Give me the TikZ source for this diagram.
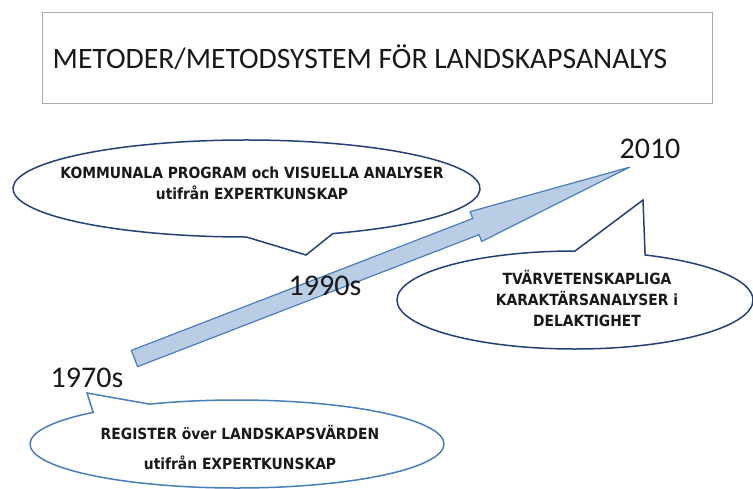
\documentclass[tikz,border=0pt]{standalone}
\usepackage{fontspec}
\usetikzlibrary{calc}
\setmainfont{Carlito}
\newfontfamily\callfont{DejaVu Sans Condensed}
\definecolor{navy}{RGB}{37,64,118}
\definecolor{midblue}{RGB}{74,126,187}
\definecolor{arrowfill}{RGB}{185,205,229}
\definecolor{boxgray}{RGB}{170,170,170}
\definecolor{ink}{RGB}{25,25,25}
\begin{document}
\begin{tikzpicture}[x=1pt,y=1pt,
  titlebox/.style={draw=boxgray,line width=0.9pt,fill=white},
  callout/.style={fill=white,line width=1.5pt,line join=miter},
  calltext/.style={font=\callfont\bfseries\fontsize{15.4}{21}\selectfont,text=ink,align=center,inner sep=0pt},
  yearlabel/.style={font=\fontsize{30}{30}\selectfont,text=ink,inner sep=0pt},
  bigarrow/.style={fill=arrowfill,draw=midblue,line width=1.2pt,line join=miter}]
\useasboundingbox (0,0) rectangle (753,-488);
% title
\draw[titlebox] (42,-12) rectangle (712,-103);
\node[font=\fontsize{29.6}{29.6}\selectfont,text=ink,anchor=base,inner sep=0pt] (title) at (360,-68.2) {METODER/METODSYSTEM FÖR LANDSKAPSANALYS};
% callout 1 (top left)
\coordinate (c1) at (246.5,-188.5);
\coordinate (tip1) at (306,-255);
\draw[callout,draw=navy] (tip1) -- ($(c1)+(-68.3:233.5 and 48.5)$) arc[start angle=-68.3,end angle=270,x radius=233.5,y radius=48.5] -- cycle;
% callout 2 (right)
\coordinate (c2) at (575,-300);
\coordinate (tip2) at (643,-200);
\draw[callout,draw=navy] (tip2) -- ($(c2)+(90:178 and 49)$) arc[start angle=90,end angle=426.8,x radius=178,y radius=49] -- cycle;
% callout 3 (bottom)
\coordinate (c3) at (237,-444);
\coordinate (tip3) at (87,-393);
\draw[callout,draw=midblue] (tip3) -- ($(c3)+(134:207 and 44)$) arc[start angle=134,end angle=475,x radius=207,y radius=44] -- cycle;
% arrow
\begin{scope}[shift={(134.5,-358.5)},rotate=21.13]
\draw[bigarrow] (0,8.7) -- (366,8.7) -- (366,16) -- (531,0) -- (366,-16) -- (366,-8.7) -- (0,-8.7) -- cycle;
\end{scope}
% texts
\node[calltext] (t1) at (252,-183) {KOMMUNALA PROGRAM och VISUELLA ANALYSER\\utifrån EXPERTKUNSKAP};
\node[calltext] (t2) at (587,-298) {TVÄRVETENSKAPLIGA\\KARAKTÄRSANALYSER i\\DELAKTIGHET};
\node[calltext,font=\callfont\bfseries\fontsize{15.4}{30}\selectfont] (t3) at (240,-447) {REGISTER över LANDSKAPSVÄRDEN\\utifrån EXPERTKUNSKAP};
\node[yearlabel] (y1970) at (87,-378) {1970s};
\node[yearlabel] (y1990) at (325,-286) {1990s};
\node[yearlabel] (y2010) at (650,-149) {2010};
\end{tikzpicture}
\end{document}
